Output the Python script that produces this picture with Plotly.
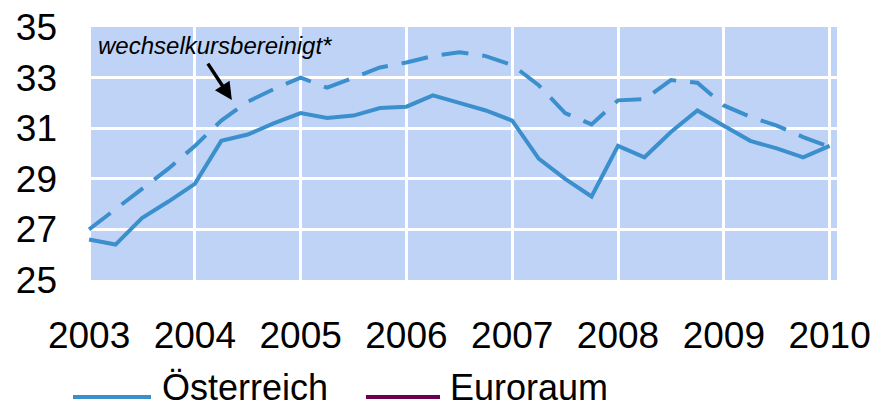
import plotly.graph_objects as go

# Quarterly data 2003Q1 .. 2010Q1
quarters = [2003 + i * 0.25 for i in range(29)]
oesterreich = [26.6, 26.4, 27.45, 28.1, 28.8, 30.5, 30.75, 31.2, 31.6, 31.4, 31.5, 31.8,
               31.85, 32.3, 32.0, 31.7, 31.3, 29.8, 29.0, 28.3, 30.3, 29.85, 30.85, 31.7,
               31.1, 30.5, 30.2, 29.85, 30.3]
wechselkursbereinigt = [27.0, 27.8, 28.6, 29.4, 30.3, 31.3, 32.05, 32.55, 33.0, 32.6, 33.0, 33.4,
                        33.6, 33.85, 34.0, 33.85, 33.5, 32.7, 31.6, 31.15, 32.1, 32.15, 32.9, 32.8,
                        31.9, 31.45, 31.1, 30.65, 30.26]
year_ticks = [2003, 2004, 2005, 2006, 2007, 2008, 2009, 2010]
y_ticks = [25, 27, 29, 31, 33, 35]
legend_names = ["Österreich", "Euroraum"]

BLUE = "rgb(59,143,204)"
PURPLE = "rgb(110,0,82)"
BG = "rgb(191,211,247)"
FONT = "Liberation Sans, Arial, sans-serif"

fig = go.Figure()
fig.add_trace(go.Scatter(x=quarters, y=oesterreich, mode="lines",
                         line=dict(color=BLUE, width=4), name=legend_names[0],
                         showlegend=False))
fig.add_trace(go.Scatter(x=quarters, y=wechselkursbereinigt, mode="lines",
                         line=dict(color=BLUE, width=4, dash="27px,14px"),
                         name="wechselkursbereinigt", showlegend=False))

fig.update_layout(
    width=879, height=411,
    margin=dict(l=88, r=42, t=27, b=131),
    paper_bgcolor="white", plot_bgcolor=BG,
    font=dict(family=FONT, color="black", size=37),
    showlegend=False,
    xaxis=dict(range=[2002.99, 2010.07], tickvals=year_ticks,
               ticktext=[str(y) for y in year_ticks],
               showgrid=True, gridcolor="white", gridwidth=3,
               zeroline=False, showline=False, ticks="", automargin=False,
               ticklabelstandoff=30, tickfont=dict(size=37)),
    yaxis=dict(range=[25, 35], tickvals=y_ticks,
               showgrid=True, gridcolor="white", gridwidth=3,
               zeroline=False, showline=False, ticks="", automargin=False,
               ticklabelstandoff=30, tickfont=dict(size=37)),
)

# annotation text
fig.add_annotation(x=2003.07, y=34.25, xref="x", yref="y", text="<i>wechselkursbereinigt*</i>",
                   showarrow=False, xanchor="left", yanchor="middle",
                   font=dict(size=24, family=FONT, color="black"))
# arrow
fig.add_annotation(x=2004.35, y=32.11, xref="x", yref="y", text="",
                   showarrow=True, arrowhead=2, arrowsize=1, arrowwidth=3.5,
                   arrowcolor="black", ax=-25, ay=-38)

# manual legend
legend_items = [(legend_names[0], BLUE, 73, 151, 161), (legend_names[1], PURPLE, 366, 440, 449)]
for name, col, x0, x1, tx in legend_items:
    fig.add_shape(type="line", xref="paper", yref="paper",
                  x0=(x0 - 88) / 749, x1=(x1 - 88) / 749,
                  y0=(280 - 397) / 253, y1=(280 - 397) / 253,
                  line=dict(color=col, width=4))
    fig.add_annotation(xref="paper", yref="paper", x=(tx - 88) / 749, y=(280 - 387) / 253,
                       text=name, showarrow=False, xanchor="left", yanchor="middle",
                       borderpad=0,
                       font=dict(size=36, family=FONT, color="black"))

fig.write_html("out.html", config={"displayModeBar": False},
               post_script="document.body.style.margin='0';document.body.style.overflow='hidden';")
